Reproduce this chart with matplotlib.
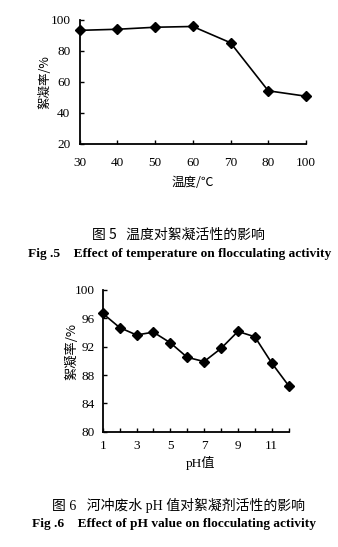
import matplotlib
matplotlib.use("Agg")
import matplotlib.pyplot as plt

# Flocculation rate vs. temperature
temp_labels = ["30", "40", "50", "60", "70", "80", "100"]
flocc_temp = [93.0, 93.7, 95.0, 95.5, 85.0, 54.0, 50.5]

# Flocculation rate vs. pH of the wastewater
ph_values = [1, 2, 3, 4, 5, 6, 7, 8, 9, 10, 11, 12]
flocc_ph = [96.7, 94.7, 93.65, 94.05, 92.55, 90.5, 89.9, 91.75, 94.15, 93.4, 89.7, 86.5]
ph_tick_labels = ["1", "3", "5", "7", "9", "11"]

W, H = 338, 547
SERIF = ["Liberation Serif", "Noto Sans CJK SC"]
CJK = ["Noto Sans CJK SC", "DejaVu Sans"]

fig = plt.figure(figsize=(W / 100, H / 100), dpi=100)
fig.patch.set_facecolor("white")


def px(x, y):
    return x / W, 1 - y / H


def style_axes(ax, xpad, ypad):
    for side in ("top", "right"):
        ax.spines[side].set_visible(False)
    for side in ("left", "bottom"):
        ax.spines[side].set_linewidth(1.3)
        ax.spines[side].set_color("black")
    ax.tick_params(direction="in", length=3, width=1, colors="black")
    ax.tick_params(axis="x", pad=xpad)
    ax.tick_params(axis="y", pad=ypad)
    for lab in ax.get_xticklabels() + ax.get_yticklabels():
        lab.set_family(SERIF)
        lab.set_fontsize(9.5)


# ---- temperature chart ----
l, t = px(79.5, 19.5)
r, b = px(306, 143.5)
ax1 = fig.add_axes([l, b, r - l, t - b])
x1 = list(range(len(temp_labels)))
ax1.plot(x1, flocc_temp, color="black", lw=1.2, marker="D", ms=5, clip_on=False)
ax1.set_xlim(0, len(temp_labels) - 1)
ax1.set_ylim(20, 100)
ax1.set_xticks(x1)
ax1.set_xticklabels(temp_labels)
ax1.set_yticks([20, 40, 60, 80, 100])
style_axes(ax1, 9.5, 6.5)

fig.text(*px(45, 82.5), "絮凝率/%", rotation=90, ha="center", va="center",
         family=CJK, fontsize=9)
fig.text(*px(193, 183), "温度/℃", ha="center", va="center", family=CJK, fontsize=9)
fig.text(*px(178, 235), "图 5   温度对絮凝活性的影响", ha="center", va="center",
         family=CJK, fontsize=10)
fig.text(*px(180, 253.5), "Fig .5    Effect of temperature on flocculating activity",
         ha="center", va="center", family=SERIF, fontsize=9.6, fontweight="bold")

# ---- pH chart ----
l, t = px(102.7, 290)
r, b = px(288.6, 431.7)
ax2 = fig.add_axes([l, b, r - l, t - b])
ax2.plot(ph_values, flocc_ph, color="black", lw=1.2, marker="D", ms=5, clip_on=False)
ax2.set_xlim(1, 12)
ax2.set_ylim(80, 100)
ax2.set_xticks(ph_values)
ax2.set_xticklabels([str(v) if str(v) in ph_tick_labels else "" for v in ph_values])
ax2.set_yticks([80, 84, 88, 92, 96, 100])
style_axes(ax2, 6, 5.5)

fig.text(*px(72, 352), "絮凝率/%", rotation=90, ha="center", va="center",
         family=CJK, fontsize=9.5)
fig.text(*px(201, 463), "pH值", ha="center", va="center", family=SERIF, fontsize=9.5)
fig.text(*px(179, 505), "图 6   河冲废水 pH 值对絮凝剂活性的影响", ha="center", va="center",
         family=SERIF, fontsize=10)
fig.text(*px(174, 523.5), "Fig .6    Effect of pH value on flocculating activity",
         ha="center", va="center", family=SERIF, fontsize=9.6, fontweight="bold")

fig.savefig("out.png", dpi=100, facecolor="white")
